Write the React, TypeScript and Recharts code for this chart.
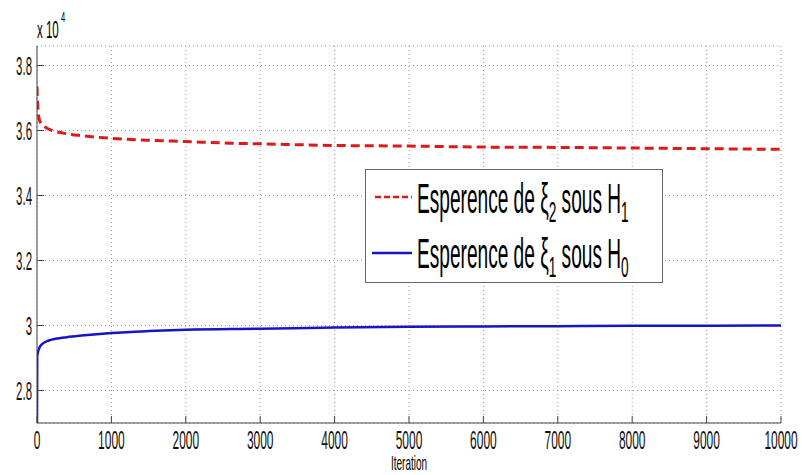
import { LineChart, Line, XAxis, YAxis, CartesianGrid } from 'recharts';

// iterations and values (units of 10^4)
const redIter = [0, 5, 15, 30, 60, 100, 200, 350, 600, 1000, 1500, 2000, 2600, 3000, 4000, 5000, 6000, 7000, 8000, 9000, 10000];
const redVals = [3.735, 3.7, 3.66, 3.635, 3.62, 3.612, 3.6, 3.592, 3.584, 3.576, 3.57, 3.566, 3.561, 3.559, 3.554, 3.552, 3.549, 3.548, 3.546, 3.544, 3.542];

const blueIter = [0, 3, 15, 40, 80, 150, 250, 400, 600, 1000, 1500, 2000, 3000, 4000, 5000, 6000, 7000, 8000, 9000, 10000];
const blueVals = [2.7, 2.905, 2.92, 2.935, 2.945, 2.953, 2.959, 2.964, 2.969, 2.977, 2.983, 2.987, 2.99, 2.994, 2.996, 2.997, 2.998, 2.999, 2.999, 3.0];

const xTicks = [0, 1000, 2000, 3000, 4000, 5000, 6000, 7000, 8000, 9000, 10000];
const yTicks = [2.8, 3, 3.2, 3.4, 3.6, 3.8];

const redData = redIter.map((it, i) => ({ it, v: redVals[i] }));
const blueData = blueIter.map((it, i) => ({ it, v: blueVals[i] }));

const FONT = '"Liberation Sans", Arial, sans-serif';

const YTick = (props: any) => {
  const { x, y, payload } = props;
  const label = String(Math.round(payload.value * 10) / 10);
  return (
    <text transform={`translate(${x},${y + 9}) scale(0.44,1)`} textAnchor="end" fontSize={26} fontFamily={FONT} fill="#111">
      {label}
    </text>
  );
};

const XTick = (props: any) => {
  const { x, y, payload } = props;
  return (
    <text transform={`translate(${x},${y + 18}) scale(0.46,1)`} textAnchor="middle" fontSize={26} fontFamily={FONT} fill="#111">
      {payload.value}
    </text>
  );
};

// legend drawn as an overlay box, like the matlab one
const LegendBox = () => (
  <svg width={298} height={114} style={{ display: 'block', position: 'absolute', left: 365, top: 169 }}>
    <rect x={0.5} y={0.5} width={297} height={113} fill="#fff" stroke="#666" />
    <line x1={10} y1={28} x2={47} y2={28} stroke="#dd1a1a" strokeWidth={2.5} strokeDasharray="6 3" />
    <text transform="translate(52,44) scale(0.455,1)" fontSize={42} fontFamily={FONT} fill="#000">
      Esperence de ξ<tspan fontSize={30} dy={9}>2</tspan>
      <tspan dy={-9}> sous H</tspan>
      <tspan fontSize={30} dy={9}>1</tspan>
    </text>
    <line x1={7} y1={84} x2={47} y2={84} stroke="#1414c8" strokeWidth={2.5} />
    <text transform="translate(52,99) scale(0.455,1)" fontSize={42} fontFamily={FONT} fill="#000">
      Esperence de ξ<tspan fontSize={30} dy={9}>1</tspan>
      <tspan dy={-9}> sous H</tspan>
      <tspan fontSize={30} dy={9}>0</tspan>
    </text>
  </svg>
);

const App = () => {
  return (
    <div style={{ position: 'absolute', left: 0, top: 0, width: 802, height: 475, background: '#fff' }}>
      <LineChart width={802} height={475} margin={{ top: 46, right: 21, left: 0, bottom: 0 }}>
        <CartesianGrid stroke="#9a9a9a" strokeDasharray="1 3" />
        <XAxis
          type="number"
          dataKey="it"
          domain={[0, 10000]}
          ticks={xTicks}
          allowDataOverflow
          height={52}
          stroke="#444"
          tickSize={-7}
          tickMargin={15}
          tick={<XTick />}
          label={{
            content: () => (
              <text transform="translate(409,470) scale(0.5,1)" textAnchor="middle" fontSize={20} fontFamily={FONT} fill="#000">
                Iteration
              </text>
            ),
          }}
        />
        <YAxis
          type="number"
          domain={[2.7, 3.86]}
          ticks={yTicks}
          allowDataOverflow
          width={37}
          stroke="#444"
          tickSize={-7}
          tickMargin={12}
          tick={<YTick />}
          label={{
            content: () => (
              <g>
                <text transform="translate(37,38) scale(0.48,1)" fontSize={24} fontFamily={FONT} fill="#000">
                  x 10
                </text>
                <text transform="translate(61,22) scale(0.5,1)" fontSize={15} fontFamily={FONT} fill="#000">
                  4
                </text>
              </g>
            ),
          }}
        />
        <Line
          data={redData}
          dataKey="v"
          type="monotone"
          stroke="#dd1a1a"
          strokeWidth={3}
          strokeDasharray="9 5"
          dot={false}
          isAnimationActive={false}
        />
        <Line
          data={blueData}
          dataKey="v"
          type="monotone"
          stroke="#1414c8"
          strokeWidth={2.5}
          dot={false}
          isAnimationActive={false}
        />
      </LineChart>
      <LegendBox />
    </div>
  );
};

export default App;
